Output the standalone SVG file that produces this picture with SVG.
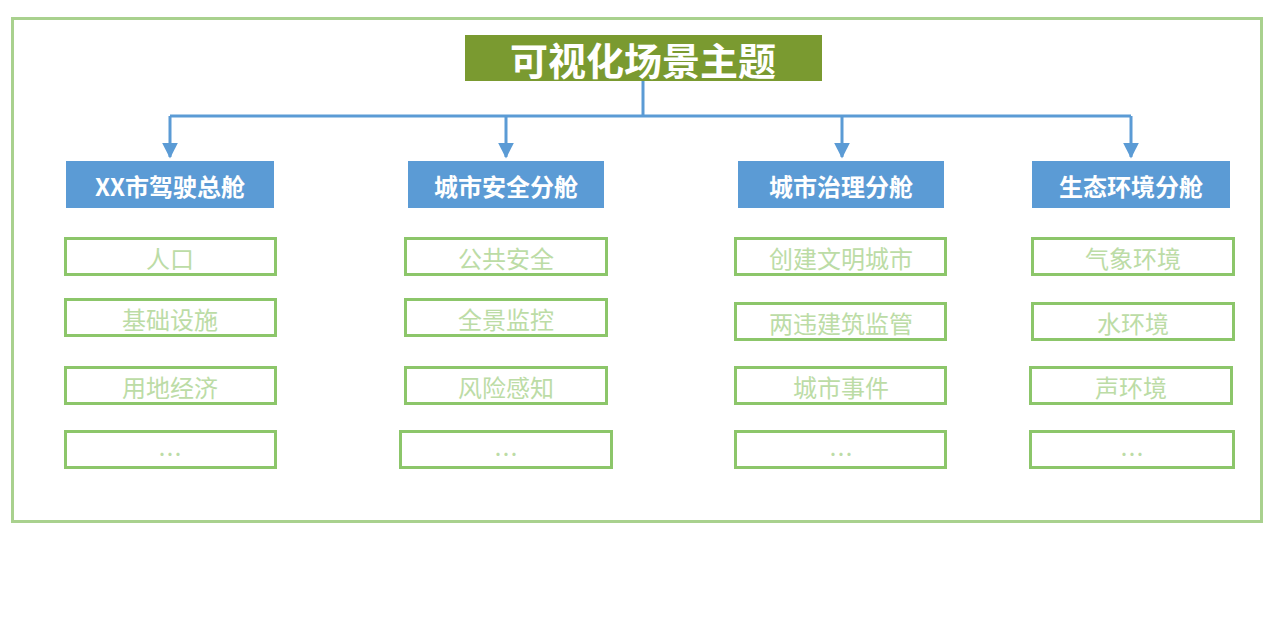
<svg xmlns="http://www.w3.org/2000/svg" width="1280" height="619" viewBox="0 0 1280 619">
<defs>
<marker id="arr" viewBox="0 0 10 10" refX="9" refY="5" markerWidth="16" markerHeight="16" orient="auto" markerUnits="userSpaceOnUse">
<path d="M0,0 L10,5 L0,10 Z" fill="#5b9bd5"/>
</marker>
<style>
.frame{fill:#fff;stroke:#a9d18e;stroke-width:3}
.title{fill:#7a9a30}
.tt{fill:#fff;font-family:"Noto Sans CJK SC",sans-serif;font-size:38px;font-weight:bold;text-anchor:middle;dominant-baseline:central}
.hd{fill:#5b9bd5}
.ht{fill:#fff;font-family:"Noto Sans CJK SC",sans-serif;font-size:24px;font-weight:bold;text-anchor:middle;dominant-baseline:central}
.it{fill:#fff;stroke:#8cc66a;stroke-width:3}
.itx{fill:#bcdca6;font-family:"Noto Sans CJK SC",sans-serif;font-size:24px;text-anchor:middle;dominant-baseline:central}
.ln{fill:none;stroke:#5b9bd5;stroke-width:3}
</style>
</defs>
<rect width="1280" height="619" fill="#fff"/>
<rect class="frame" x="12.5" y="18.5" width="1249" height="503"/>
<g id="connectors">
<path class="ln" d="M643,81 V116"/>
<path class="ln" d="M170,116 H1131"/>
<path class="ln" d="M170,116 V157" marker-end="url(#arr)"/>
<path class="ln" d="M506,116 V157" marker-end="url(#arr)"/>
<path class="ln" d="M842,116 V157" marker-end="url(#arr)"/>
<path class="ln" d="M1131,116 V157" marker-end="url(#arr)"/>
</g>
<g id="title"><rect class="title" x="465" y="35" width="357" height="46"/><text class="tt" x="643" y="58">可视化场景主题</text></g>
<g id="h1"><rect class="hd" x="66" y="161" width="208" height="47"/><text class="ht" x="170" y="185">XX市驾驶总舱</text></g>
<g id="h2"><rect class="hd" x="408" y="161" width="196" height="47"/><text class="ht" x="506" y="185">城市安全分舱</text></g>
<g id="h3"><rect class="hd" x="738" y="161" width="206" height="47"/><text class="ht" x="841" y="185">城市治理分舱</text></g>
<g id="h4"><rect class="hd" x="1032" y="161" width="198" height="47"/><text class="ht" x="1131" y="185">生态环境分舱</text></g>

<g id="c1r1"><rect class="it" x="65.5" y="238.5" width="210" height="36"/><text class="itx" x="170" y="257">人口</text></g>
<g id="c1r2"><rect class="it" x="65.5" y="299.5" width="210" height="36"/><text class="itx" x="170" y="318">基础设施</text></g>
<g id="c1r3"><rect class="it" x="65.5" y="367.5" width="210" height="36"/><text class="itx" x="170" y="386">用地经济</text></g>
<g id="c1r4"><rect class="it" x="65.5" y="431.5" width="210" height="36"/><text class="itx" x="170" y="452">…</text></g>

<g id="c2r1"><rect class="it" x="405.5" y="238.5" width="201" height="36"/><text class="itx" x="506" y="257">公共安全</text></g>
<g id="c2r2"><rect class="it" x="405.5" y="299.5" width="201" height="36"/><text class="itx" x="506" y="318">全景监控</text></g>
<g id="c2r3"><rect class="it" x="405.5" y="367.5" width="201" height="36"/><text class="itx" x="506" y="386">风险感知</text></g>
<g id="c2r4"><rect class="it" x="400.5" y="431.5" width="211" height="36"/><text class="itx" x="506" y="452">…</text></g>

<g id="c3r1"><rect class="it" x="735.5" y="238.5" width="210" height="36"/><text class="itx" x="841" y="257">创建文明城市</text></g>
<g id="c3r2"><rect class="it" x="735.5" y="303.5" width="210" height="36"/><text class="itx" x="841" y="322">两违建筑监管</text></g>
<g id="c3r3"><rect class="it" x="735.5" y="367.5" width="210" height="36"/><text class="itx" x="841" y="386">城市事件</text></g>
<g id="c3r4"><rect class="it" x="735.5" y="431.5" width="210" height="36"/><text class="itx" x="841" y="452">…</text></g>

<g id="c4r1"><rect class="it" x="1032.5" y="238.5" width="201" height="36"/><text class="itx" x="1133" y="257">气象环境</text></g>
<g id="c4r2"><rect class="it" x="1032.5" y="303.5" width="201" height="36"/><text class="itx" x="1133" y="322">水环境</text></g>
<g id="c4r3"><rect class="it" x="1030.5" y="367.5" width="201" height="36"/><text class="itx" x="1131" y="386">声环境</text></g>
<g id="c4r4"><rect class="it" x="1030.5" y="431.5" width="203" height="36"/><text class="itx" x="1132" y="452">…</text></g>
</svg>
